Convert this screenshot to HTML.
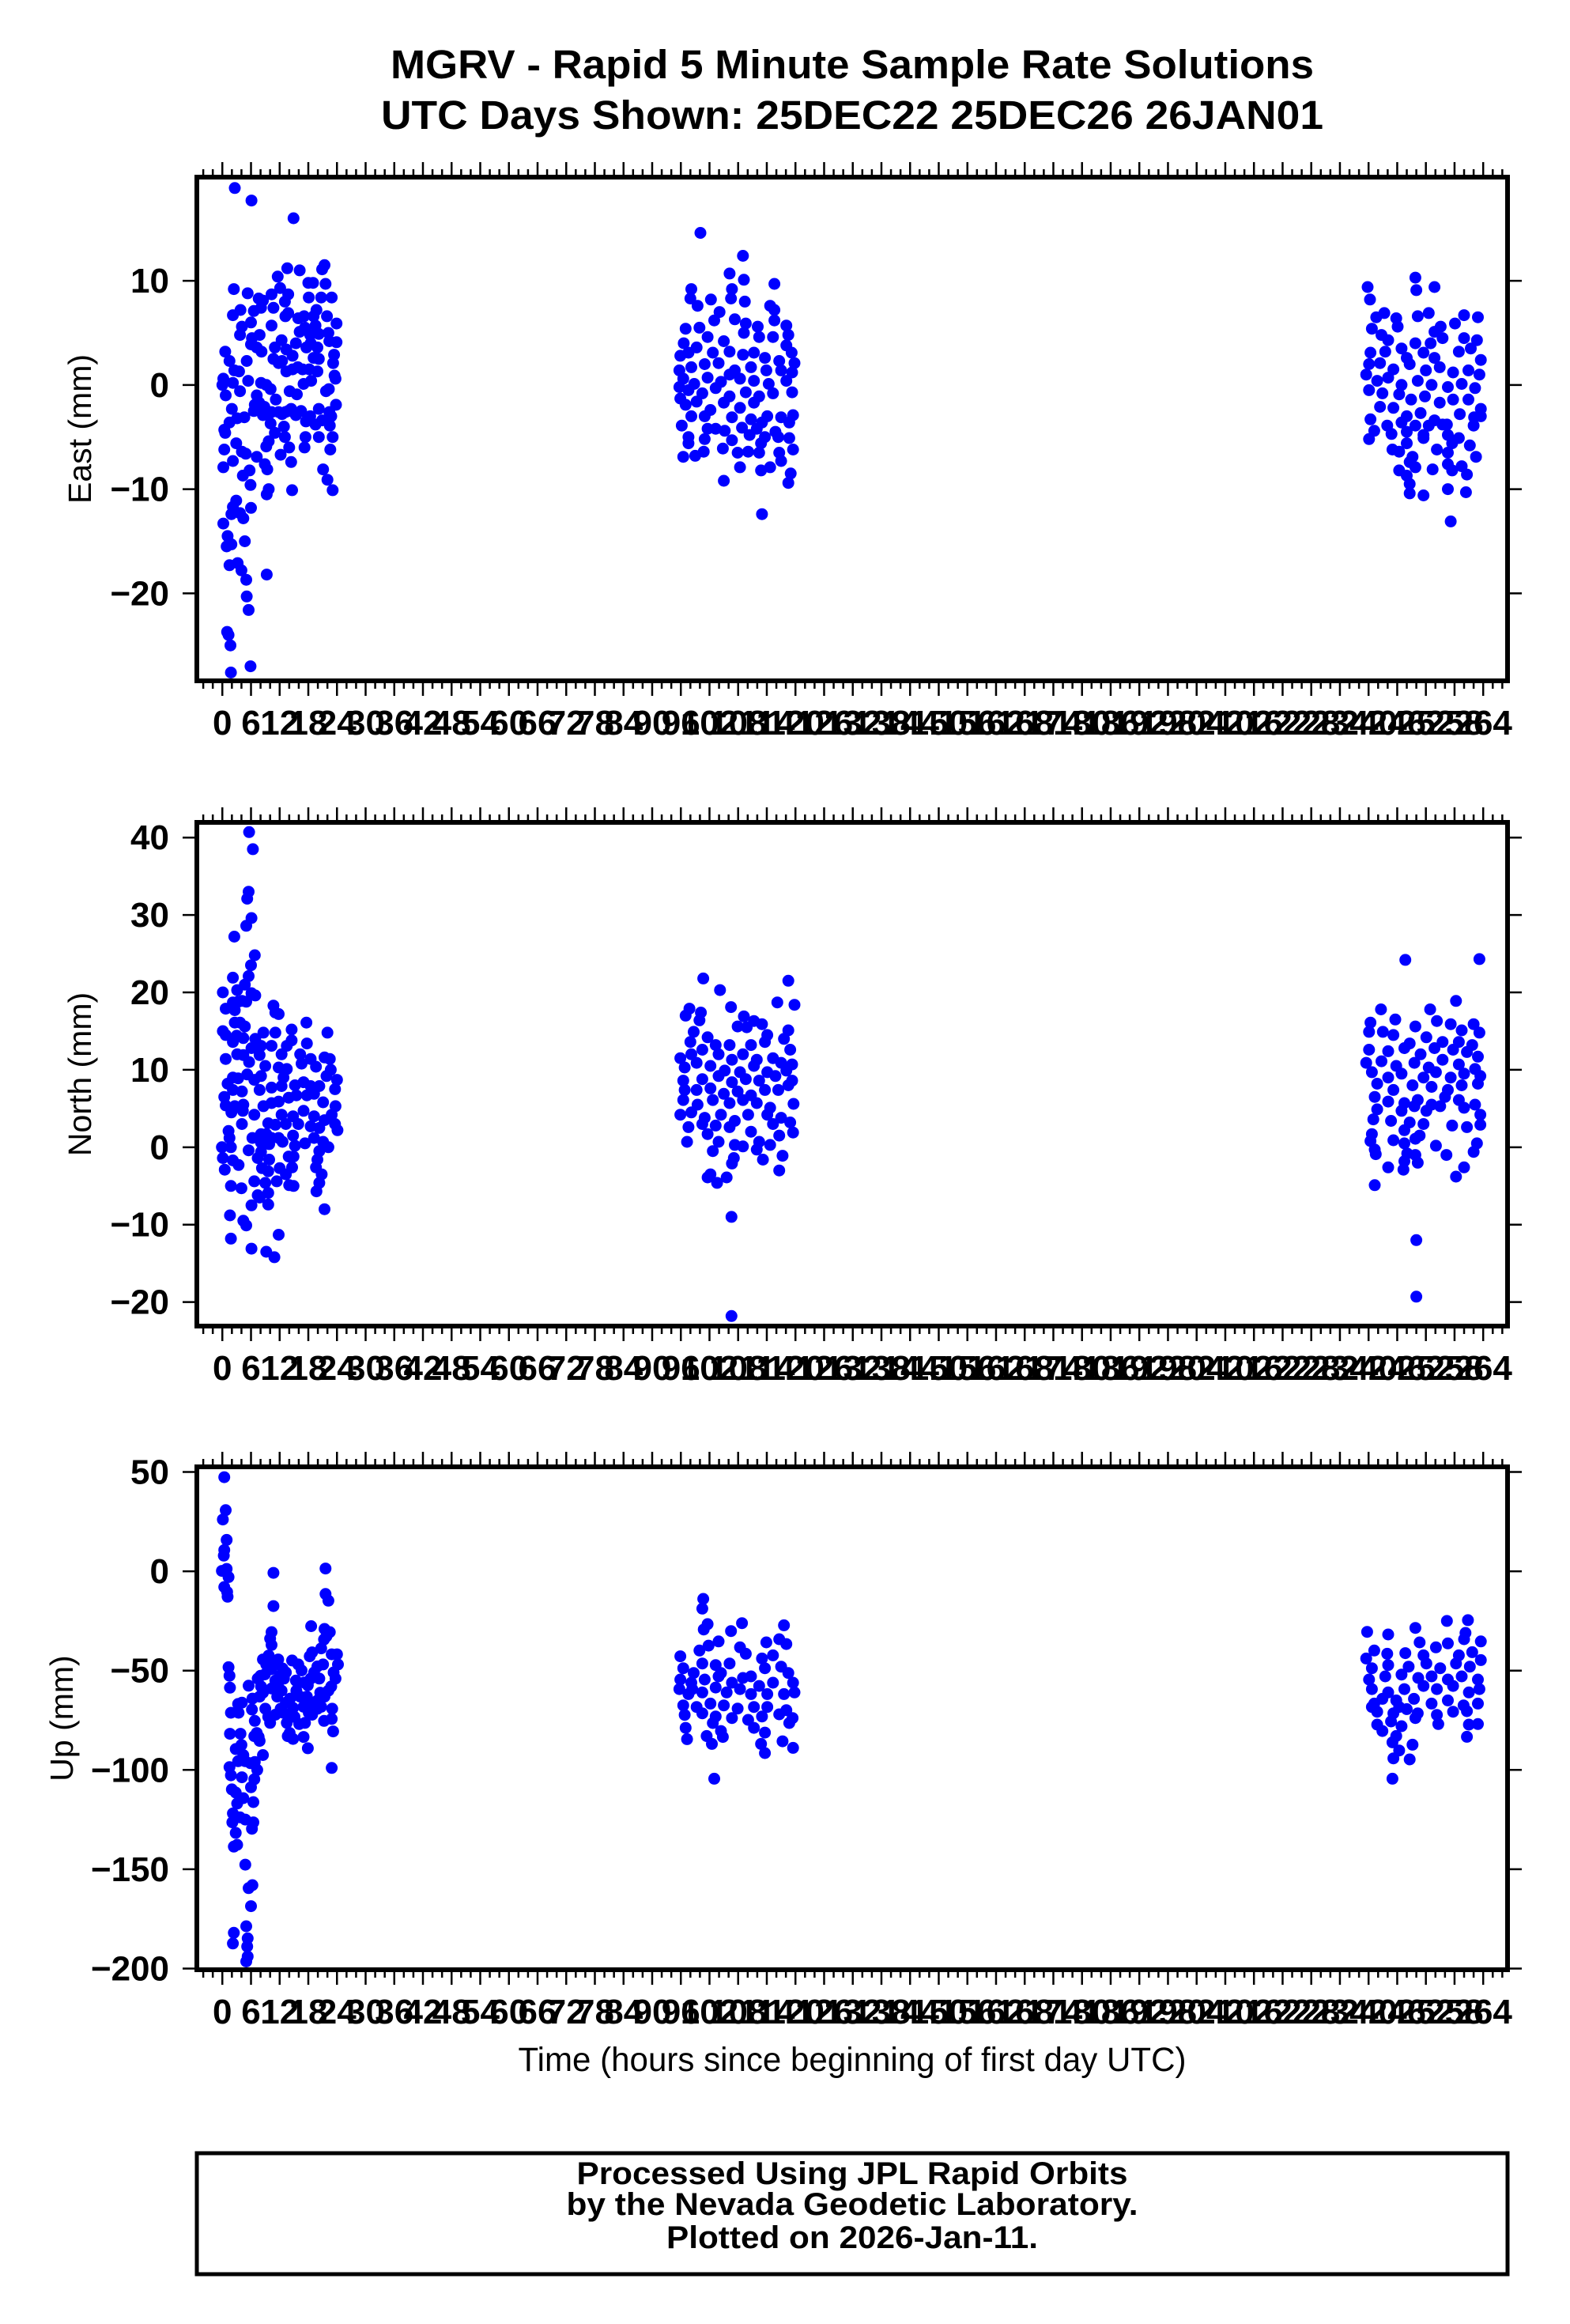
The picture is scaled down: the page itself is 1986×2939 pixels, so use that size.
<!DOCTYPE html>
<html><head><meta charset="utf-8"><title>MGRV Rapid 5 Minute Solutions</title>
<style>html,body{margin:0;padding:0;background:#fff}svg{display:block}text{font-family:"Liberation Sans",Arial,sans-serif}</style>
</head><body>
<svg id="chart" xmlns="http://www.w3.org/2000/svg" width="1986" height="2939" viewBox="0 0 1986 2939">
<rect x="0" y="0" width="1986" height="2939" fill="#fff"/>
<text x="1078" y="99" font-size="51" font-weight="bold" text-anchor="middle" textLength="1168" lengthAdjust="spacingAndGlyphs">MGRV - Rapid 5 Minute Sample Rate Solutions</text>
<text x="1078" y="163" font-size="51" font-weight="bold" text-anchor="middle" textLength="1192" lengthAdjust="spacingAndGlyphs">UTC Days Shown:  25DEC22 25DEC26 26JAN01</text>
<g id="panels"></g>
<text x="1078" y="2619" font-size="43" text-anchor="middle" textLength="845" lengthAdjust="spacingAndGlyphs">Time (hours since beginning of first day UTC)</text>
<rect x="249" y="2723" width="1658" height="153" fill="none" stroke="#000" stroke-width="5"/>
<text x="1078" y="2762" font-size="40" font-weight="bold" text-anchor="middle" textLength="697" lengthAdjust="spacingAndGlyphs">Processed Using JPL Rapid Orbits</text>
<text x="1078" y="2801" font-size="40" font-weight="bold" text-anchor="middle" textLength="723" lengthAdjust="spacingAndGlyphs">by the Nevada Geodetic Laboratory.</text>
<text x="1078" y="2843" font-size="40" font-weight="bold" text-anchor="middle" textLength="470" lengthAdjust="spacingAndGlyphs">Plotted on 2026-Jan-11.</text>
</svg>
<script>
// ---- data (hours since start of first day, displacement in mm) ----
const xTickLabels = [0,6,12,18,24,30,36,42,48,54,60,66,72,78,84,90,96,102,108,114,120,126,132,138,144,150,156,162,168,174,180,186,192,198,204,210,216,222,228,234,240,246,252,258,264];
const eastTicks = [10,0,-10,-20];
const northTicks = [40,30,20,10,0,-10,-20];
const upTicks = [50,0,-50,-100,-150,-200];

const eastH = [2.6,6.1,14.9,0,0.2,0.7,0.6,1.5,2,1.5,0.4,0.6,0.4,0.2,2.2,0.2,1.1,0.9,1.9,1.5,1,1.3,1.7,1.8,5.9,
2.4,2.2,3.8,4.1,3.7,5.3,2.5,3.5,2.2,3.7,3.1,4.6,2.9,4.1,4.9,4.3,5.7,5.9,2.9,2.2,3.7,4.4,6,1.9,4.7,3.2,4,5,5.1,5.5,
5.1,5.4,6.2,6,6.6,7.6,8.5,8.1,6,7.2,8.2,7.8,10.3,10.7,10.3,11.6,12.1,13.1,13.2,13.8,13.6,13.8,16.2,18,19,18.1,20.7,20.9,21.4,21.6,22.9,21.9,23.9,22.2,22.4,23.9,23.4,23.2,23.5,23.7,23.8,22.3,21.7,22.4,22.8,22.5,23.1,22.6,22,23.1,21.1,20.2,20.9,20.2,19.5,18.4,17.5,17.4,17.2,16.5,15.4,14.4,14.1,15.6,17,18.6,19.9,20.2,19.1,18.2,16.8,15.8,14.7,13.4,12.5,11.8,10.7,11,12.4,13.4,14.7,15.4,16.2,17.3,18.4,19.5,20.2,19.1,19.7,17.1,15.9,17.6,18.5,19.9,8.1,9.2,10.1,7.2,6.8,7.7,8.8,9.7,10.3,11.2,11.8,12.5,13.2,13.8,6.6,8.5,10.1,11,12.9,13.1,14,12.2,14.4,14.6,9.2,9.7,8.9,9.4,9.7,9.3,7.2,9.3,
100.1,109,106.2,109.2,115.6,98.2,98,99.5,102.3,106.7,106.5,109.4,114.7,115.6,104.1,103,107.3,109.6,112.1,115.6,118.1,118.5,97,99.9,101.6,96.6,105,109.2,112.4,115.3,118.1,119.2,95.9,97.6,99.3,102.7,106.2,109,111.3,113.6,116.6,119.8,95.7,98.2,101,103.9,107.3,110.7,113.9,117,119.3,96.5,98.8,101.6,104.4,106.2,108.4,111.3,114.4,118.1,95.7,97.6,100.5,103.3,106.2,109.6,112.4,115.3,119.3,95.9,97,99.3,102.2,105,108.4,111.3,114.1,117,119.5,98.2,101,106.7,110.7,113,96.2,101.6,103.3,105.2,108.8,111.9,115.8,118.7,97.6,101,106.7,110.4,113.6,116.4,118.7,97.6,104.8,112.8,119.5,96.5,99,100.8,107.9,110.1,112.4,116.6,117,108.4,112.8,114.7,119,118.5,105,113,
239.8,240.3,249.8,250,253.8,241.6,243.3,245.8,246.1,250.3,252.6,253.8,255.1,258.1,260,262.9,240.7,242.7,244.1,249.8,253,255.5,260,262.7,240.4,243.5,246.9,248,251.5,253.8,258.9,261.4,263.5,240.1,242.4,245.2,248.6,252,254.9,257.7,260.9,263.2,239.5,241.8,244.1,246.9,250.3,253.2,256.6,259.5,262.3,240.1,242.9,246.4,248.9,251.8,254.9,257.7,260.9,263.5,242.4,245.2,248,250.9,253.8,256.4,259.1,262.1,263.5,240.4,243.9,246.9,249.8,252.6,255.5,262,241.2,244.8,248,251.5,256.6,258.9,240.1,248,251.5,257.5,261.2,245,246.4,249.2,254.3,256.6,262.5,248.6,249.8,256.6,259.5,246.4,253.4,257.5,260.6,248,248.6,248.6,251.5,256.6,260.4,257.2];
const eastV = [18.9,17.7,16,0,0.6,-1,3.2,2.3,-2.3,-3.6,-4.3,-4.6,-6.2,-7.9,-7.3,-13.3,-14.5,-15.5,-15.3,-17.3,-23.7,-24,-25,-27.6,-27,
9.2,6.7,7.2,5.6,4.8,8.8,1.4,1.3,0.2,-0.6,-3.2,-3.1,-5.6,-6.4,-6.6,-8.7,-8.2,-9.6,-11.1,-11.7,-12.3,-12.8,-11.8,-12.4,-15,-17.1,-17.8,-18.7,-20.3,-21.6,
2.3,0.4,4.5,6,7.1,8.3,8.1,7.4,3.9,3.6,3.2,4.8,5.7,7.4,8.7,10.4,9.3,8,6.6,6.9,11.2,8.7,11,9.8,9.8,8.4,8.4,11.1,11.5,9.7,8.4,6.6,5.9,5,4.2,4.1,2.9,2.1,0.9,0.6,-1.9,-0.4,-0.6,-2.6,-3,-3.9,-5,-6.2,-9.1,-10.1,-8.1,-5,-3.4,-2.3,-3.8,-3,-3.5,-5,-6,-2.5,-2.9,-2.3,-0.6,-0.9,0.1,0.4,1.3,2.5,2.6,1.5,1.5,1.7,1.5,1.3,2.3,2.1,2.5,3.6,4.3,3.4,2.8,4,5.1,5.5,4.8,5.7,4.9,6.6,7.2,6.6,6.4,3.6,4,3.6,0.2,0,-0.4,-1,-1.9,-1.7,-2.1,-2.8,-2.6,-1.4,-2.6,-2.8,-2.6,-2.5,-2.5,-2.9,-3.7,-4.6,-4,-5,-6,-6.7,-7.4,-10.1,-5.9,-5.4,-7.6,-8.1,-10,-10.5,-6.9,-18.2,
14.6,12.4,10.7,10.1,9.7,9.2,8.3,7.6,8.2,9.2,8.3,8,7.6,7.2,7,6.2,6.3,5.9,5.6,6.2,5.7,4.8,5.4,5.5,4.6,4,4.2,5,4.6,4.6,3.8,3.1,2.8,3.1,3.6,3.1,3.2,2.9,3.1,2.6,2.3,2.1,1.4,1.7,2,2.1,1.4,1.7,1.4,1.4,1.2,0.6,0.1,0.7,0.3,1,0.6,0.4,0.1,0.4,-0.2,-0.5,-0.8,-0.3,-1.1,-0.7,-1.1,-0.8,-0.7,-1.3,-1.9,-1.6,-2.4,-1.7,-2.2,-1.7,-3,-3.1,-2.9,-3,-3,-3.1,-3.3,-3.6,-3.9,-4.2,-4.2,-4.4,-4.1,-4.2,-4.5,-3.6,-5,-5.2,-5.3,-4.8,-5,-5,-5.1,-5.6,-6.1,-5.6,-6.2,-6.9,-6.8,-6.4,-6.5,-6.4,-6.5,-6.5,-7.3,-7.9,-8.2,-7.9,-8.5,-9.4,-9.2,-12.4,
9.4,8.2,10.3,9.1,9.4,6.5,6.9,6.4,5.6,6.6,6.9,5.1,5.6,5.9,6.7,6.5,5.4,4.8,4.3,4,4,4.5,4.5,4.3,3.1,3.2,3.5,2.6,3.1,2.6,3.2,3.5,2.4,2,2.1,1.5,2,1.4,1.7,1.2,1.4,1,1,0.4,0.7,0,0.4,0,-0.2,0.1,-0.3,-0.5,-0.8,-0.9,-1.4,-1.1,-1.7,-1.4,-1.4,-2.3,-2.1,-2.2,-3,-2.7,-3.4,-3.8,-2.8,-3.1,-3,-3.3,-3.9,-3.6,-3.9,-3.9,-3.8,-3.9,-4.4,-4.7,-4.5,-4.8,-4.8,-5.1,-5.2,-5.6,-5.1,-5.6,-5.8,-6.2,-6.4,-6.9,-6.2,-6.5,-6.9,-7.4,-7.9,-7.6,-7.8,-8.2,-8.1,-8.2,-8.6,-8.7,-9.5,-10.4,-10.6,-10,-10.3,-13.1];

const northH = [5.6,6.4,5.5,5.2,6.1,5,2.5,6.8,6,5.5,2.2,0.1,4.7,3.1,6.1,6.9,5,0.7,2.6,2.2,3.3,4.1,10.7,11.1,11.8,0.1,0.7,2.6,3.7,4.7,3,4.4,2.2,6.1,6.9,8.6,11.1,14.5,17.6,22,0.7,3.1,4.4,5.6,8.1,10.3,12.4,13.5,14.5,16.3,17.7,7.8,9,11.8,13.5,16.6,18.5,19.6,21.4,22.5,22.7,1.1,2.2,3.3,5.2,6.7,8.1,10.3,12.4,12.8,15.2,17,18.5,20.3,21.8,24,23.6,0.4,2.2,4.1,7.8,0.7,2.6,4.4,6.7,8.6,10.3,11.8,13.9,15.5,17.7,19.2,21.1,23.7,1.9,4.3,12.4,14.8,17,19.2,21.4,22.9,4.1,9.6,11.1,13.3,15.9,18.5,20.3,23.6,24.1,1.3,1.5,8.1,9.2,10.3,11.8,12.6,14.8,17.3,19.2,21.1,6.3,8.1,9.8,-0.1,1.8,15.2,22.2,5.5,8.1,0.1,2.2,7.4,9.8,13.9,14.9,20.3,19.9,0.5,3.4,8.3,9.6,12,13.3,14.6,19.6,20.8,6.7,11.4,14,14.9,1.8,4,9,20.3,19.7,7.4,9.6,7.8,9.6,6.1,21.4,1.6,4.4,5,1.8,11.8,6.1,9.2,10.9,
100.7,104.2,118.5,106.5,116.2,119.8,97.8,97,100.2,99.9,109.2,111.3,113,107.9,118.5,98.7,101.6,109.8,114.1,117.6,98,103.3,106.2,110.7,113.6,118.9,95.9,98.2,100.5,103.9,106.7,109,111.9,115.3,117,119.3,96.8,99.3,102.2,105.2,108.4,111.3,114.1,118.1,96.5,100.5,103.9,106.7,109.6,112.4,115.8,119.3,96.8,99.3,102.2,105,107.9,110.7,113.6,116.4,118.5,96.5,99.5,102.7,106.2,109,111.9,114.7,119.6,95.9,98.2,101,104.4,107.3,110.1,114.1,117,118.9,97.6,100.5,103.3,106.2,110.7,115.3,119.5,97.3,101.6,103.9,107.3,112.4,116.6,102.7,109,111.9,114.7,107.1,113.2,117.3,106.7,116.6,101.6,102.2,103.6,105.6,106.6,106.6,
247.7,263.2,258.3,242.6,252.9,240.4,245.6,254.3,257.2,262,249.8,240.1,243,245.2,259.5,263.2,248.6,252.1,255.5,258.9,261.7,240.1,244.1,247.5,250.9,253.8,257.7,260.6,262.9,239.5,242.7,245.8,249.6,252.6,255.5,258.9,262.3,240.7,244.1,246.9,251.5,254.1,257.2,260,263.4,241.8,245.2,249.2,253.2,256.6,259.5,262.9,241.3,244.1,247.5,250.3,253.2,256,258.9,262.3,241.8,246.9,249.6,252.1,255,260,263.4,241,244.7,248.6,251.5,257.5,260.6,263.4,240.7,247.5,250.7,241.3,245.2,247.5,249.8,240.4,254.1,262.7,241.5,248.1,249.8,256.3,262,247.5,250.3,244.1,247.3,260,258.3,241.3,250,250];
const northV = [40.7,38.5,33,32.1,29.6,28.6,27.2,24.8,23.5,22.1,21.9,20,21,20.3,19.9,19.6,18.8,17.9,17.7,18.7,18.8,18.9,18.3,17.4,17.2,15,14.5,16.1,16.1,15.6,14.4,14.1,13.6,12.8,14,14.8,14.8,15.2,16.1,14.8,11.4,12,11.9,11,13.1,13.1,12,13.1,13.8,12,13.4,11.9,10.5,10.3,10.1,10.8,11.4,10.4,11.6,11.4,10,8.2,9,8.9,9.4,8.7,9.2,7.7,7.9,9,8,8.4,7.9,7.9,9.2,8.7,7.5,6.5,7.4,7.2,7.4,5.4,5.3,5.5,4.2,5.3,5.7,5.9,6.4,6.7,6.7,6.9,5.8,5.3,4.5,4.7,4.2,4,4.7,4,3.5,4.2,3,3.1,2.9,3,3,2.7,2.5,3,2.2,2.1,1.2,1.7,1.7,1.2,1.2,0.7,1.5,0.5,1.2,0.7,1.2,0.6,0.4,0,0,0.2,0,-0.4,-0.6,-1.4,-1.7,-1.4,-1.6,-1.2,-1.2,-0.5,-1.6,-2.9,-2.3,-2.7,-3.1,-2.7,-3.5,-2.6,-2.6,-3.5,-4.4,-4.4,-4.9,-5,-5,-5.3,-4.6,-4.6,-5.7,-6.2,-5.9,-6.5,-7.4,-7.5,-8,-8.8,-9.5,-10.1,-11.8,-11.3,-13.1,-13.5,-14.2,
21.8,20.3,21.5,18.1,18.7,18.4,17.9,17,17.4,16.4,16.9,16.3,15.9,15.6,15.1,14.9,14.2,15.5,14.5,14,13.6,13.2,13.2,13.2,13.6,12.6,11.5,12,12.6,12,11.3,12,11.3,11.5,10.9,10.7,10.3,10.9,10.5,9.9,9.7,10.5,9.7,9.9,8.6,8.8,9.2,8.4,8.8,8.6,9.2,8.6,7.4,7.4,7.6,6.9,7.2,6.7,7.4,7.4,8,6.1,5.5,6.1,5.7,6.1,5.7,5.1,5.6,4.2,4.5,3.8,4.2,3.4,4.2,4.2,3.8,3.2,2.6,3,2.8,2.6,2,3,1.9,0.7,1.7,0.7,0.3,0.7,1.5,-0.5,0.1,-0.3,0.3,-1.4,-1.6,-1.1,-2.1,-3,-3.9,-3.5,-4.6,-3.9,-9,-21.8,
24.2,24.3,18.9,17.8,17.8,16.1,16.5,16.3,15.9,15.9,15.6,14.9,14.9,14.5,15.1,14.8,13.4,14.2,13.6,13.6,13.2,12.6,12.4,12.8,12,12.8,12.6,12.3,11.7,10.9,11.1,10.5,10.9,10.3,11.3,10.7,10.1,9.7,9,9.5,9,9.7,9,9.5,9.2,8.2,7.4,8,7.8,7.4,8,8.2,6.5,5.9,5.7,6.1,5.5,6.5,6.1,5.5,4.9,4.7,5.3,4.7,5.3,5.1,4.2,3.6,3.4,3.2,3,2.8,2.6,2.9,1.7,2.2,1.5,-0.3,0.9,0.5,1.1,0.8,0.2,0.5,-0.9,-0.8,-1,-1,-0.6,-1.8,-2,-2.6,-2.9,-2.6,-3.8,-4.9,-12,-19.3];

const upH = [0.4,0.7,0.1,0.9,0.4,0.3,-0.1,0.9,1.3,0.4,1,1.1,1.3,1.5,1.6,1.8,1.6,1.5,1.8,2,2.8,3.1,2.2,2.1,2.8,2.4,3.1,2.4,2.2,4.8,5.5,6.3,6,5,5.3,5.2,5.3,5,3.3,4.1,3.4,3.8,2.8,4,4.4,3.3,4.8,4.1,4.4,6,6.5,4.8,6.5,6.2,3.7,5.5,6.3,6.2,6.8,6.7,7.2,7.6,7.8,8.5,6.8,7.3,6.7,5.9,7.4,8,8.1,8.5,7.8,9,9.6,10,8.5,9.7,10.3,10,10.3,10.7,10.7,10.2,10.9,11.7,11.1,12,12.6,12.9,13.3,10.3,11.5,12.4,13.3,11.1,12.2,14.2,15.4,14.6,15.9,16.6,15.5,16.3,14.8,17,17.1,17.9,18.5,18.3,18.8,18.6,19.2,19.9,20.3,21.1,20.7,21.3,21.4,21.8,22.5,21.6,22.2,21.6,22.9,24,24.2,23.3,23.7,22.8,22.2,21.4,20.5,19.9,18.8,17.7,18.1,17.3,17,17.9,18.8,19.9,20.7,21.3,23,22.9,23.2,22.9,13.9,13.5,14.1,13.7,14.8,16.1,15.1,8.9,9.2,11.8,12.7,
100.7,100.5,101.6,100.8,108.8,106.5,103.9,117.6,116.6,113.9,118.1,95.9,99.9,101.8,108.4,109.6,113,115.3,96.5,98.7,100.5,103.3,106.2,110.7,113.6,117,118.5,95.9,98.2,101,103.9,106.7,109,112.4,115.3,119.5,95.7,97.6,100.5,103.3,105.6,108.4,110.7,114.1,117.6,119.8,96.5,99.3,102.2,105,107.9,111.3,114.1,118.1,96.8,100.5,103.3,106.7,110.1,113,116.6,119.4,97,101.4,102.7,104.4,111.3,113.6,118.7,97.3,102.5,104.8,112.8,117.3,113.6,119.5,103,98.4,104.4,
239.7,244.1,249.8,256.4,260.8,260.3,260,263.5,250.7,254.1,241.2,247.7,251.5,256.6,239.5,243.9,258.9,261.7,263.5,240.7,244.1,248.4,252.1,255,258.3,261.2,240.1,243.5,246.9,250.4,253.2,256.6,259.5,262.9,240.7,244.1,247.5,251.5,254.3,257.7,261,263.2,241.2,242.9,245.8,249.5,253.2,256.6,259.9,262.9,241.8,245.2,248,250.3,254.3,257.7,260.6,241.8,244.7,246.9,249.8,254.6,261,262.9,242.9,245.8,245,246.4,249.2,260.6,245.2,248.6,245,240.7,246.4];
const upV = [47.4,30.8,26.1,15.8,10.7,7.9,0.2,1.2,-2.9,-7.9,-10.4,-12.8,-48.3,-52.6,-58.6,-71.2,-81.8,-98.6,-102.7,-109.8,-111.4,-116.9,-121.9,-126.4,-131.7,-138.6,-137.7,-182,-187.4,-147.7,-159.5,-158,-168.6,-178.7,-184.8,-188.9,-193.9,-196.4,-66.8,-66.1,-71.2,-81.8,-89.5,-87.4,-92.5,-95.6,-95.6,-103.7,-114.2,-108.7,-116.2,-125,-126.4,-129.6,-123.9,-57.6,-64.1,-69.6,-75.3,-83,-81.4,-83.4,-85.4,-92.5,-96,-100,-104.7,-96.6,-54,-52.6,-58,-61.1,-63.1,-69.2,-73.3,-76.3,-44.4,-42.4,-30.6,-33.9,-37.1,-17.5,-0.8,-49.3,-46.9,-44.4,-55,-52.6,-48.9,-54,-50.9,-59,-63.1,-60.1,-66.1,-72.2,-69.2,-64.1,-55,-44.9,-46.9,-49.9,-60.1,-63.1,-68.8,-68.2,-56,-57.4,-54,-42.8,-40.8,-27.6,-50.9,-47.9,-54,-46.9,-38.8,-34.3,-29,-32.7,-30.6,-11.4,-14.8,1.4,-41.8,-41.8,-46.9,-50.9,-54,-58,-60.1,-63.1,-61.1,-65.1,-66.1,-63.1,-71.2,-76.3,-83.4,-89.1,-72.2,-69.2,-68.2,-75.3,-69.2,-74.3,-80.6,-99,-73.3,-76.3,-81.4,-83,-84.4,-76.9,-73.3,-51.9,-46.9,-58.6,-71.2,
-13.9,-18.8,-26.6,-29.3,-26.1,-30.1,-35.3,-27.2,-34.2,-35.8,-36.6,-42.8,-39.9,-37.4,-38.3,-41.5,-43.9,-42.3,-48.8,-51.2,-46.4,-47.2,-46.4,-52.9,-48.8,-48,-51.2,-54.5,-56.1,-54.5,-52.9,-56.1,-53.7,-57.7,-56.1,-56.1,-59.3,-61.8,-61,-58.5,-61,-59.3,-61.8,-61.8,-61.8,-61,-67.5,-68.3,-66.6,-67.5,-69.1,-68.3,-68.3,-69.9,-72.3,-71.5,-73.1,-73.9,-74.8,-73.1,-72,-73.9,-78.8,-82.9,-76.4,-80.4,-78.8,-81.2,-76.4,-84.5,-86.9,-83.4,-86.9,-85.6,-91.5,-88.9,-104.4,-59.3,-51.2,
-30.5,-31.8,-28.5,-25,-24.6,-31,-34.2,-35.3,-35.8,-38.3,-39.9,-41.2,-42.3,-36.3,-43.9,-41.5,-42.3,-40.7,-44.7,-48.8,-47.2,-48,-46.4,-48.8,-46.4,-48,-54.5,-52.9,-52,-53.7,-52.9,-54.5,-52.9,-54.5,-59.3,-61,-59.3,-57.7,-59.3,-57.7,-61,-59.3,-66.6,-64.2,-65,-64.2,-66.6,-65,-67.5,-66.6,-70.7,-71.5,-69.4,-71.5,-72.3,-70.7,-70.4,-77.2,-75.6,-78,-73.9,-76.9,-77.2,-76.9,-80.4,-82.9,-86.1,-90.2,-87.3,-83.3,-94.2,-94.7,-104.4,-68.3,-68.3];

// ---- layout ----
const X0 = 249, X1 = 1907, H_MIN = -5.34, H_MAX = 269.1;
function xScale(h){ return X0 + (h - H_MIN) * (X1 - X0) / (H_MAX - H_MIN); }
function makeY(top, bottom, vTop, vBottom){ return v => top + (vTop - v) * (bottom - top) / (vTop - vBottom); }

const NS = 'http://www.w3.org/2000/svg';
const root = document.getElementById('panels');
function el(tag, attrs, parent){ const e = document.createElementNS(NS, tag); for (const k in attrs) e.setAttribute(k, attrs[k]); (parent||root).appendChild(e); return e; }

const panels = [
  {key:'east', title:'East (mm)', top:224, bottom:861, vTop:19.95, vBottom:-28.4, ticks:eastTicks, hs:eastH, vs:eastV, titleX:115},
  {key:'north', title:'North (mm)', top:1040, bottom:1677, vTop:41.96, vBottom:-23.1, ticks:northTicks, hs:northH, vs:northV, titleX:115},
  {key:'up', title:'Up (mm)', top:1855, bottom:2491, vTop:52.6, vBottom:-200.6, ticks:upTicks, hs:upH, vs:upV, titleX:92}
];

panels.forEach(p => {
  const g = el('g', {});
  
  
  const y = makeY(p.top, p.bottom, p.vTop, p.vBottom);
  const pg = el('g', {fill:'#0000ff'}, g);
  
  
  for (let i = 0; i < p.hs.length; i++) {
    const c = el('circle', {cx: xScale(p.hs[i]).toFixed(1), cy: y(p.vs[i]).toFixed(1), r: 7.5}, pg);
    
    
  }
  const tg = el('g', {stroke:'#000', 'stroke-width':2.5}, g);
  
  
  for (let h = -4; h <= 268; h += 2) {
    const major = (h % 6 === 0) && h >= 0;
    const L = major ? 19 : 10, xx = xScale(h);
    el('line', {x1:xx, x2:xx, y1:p.top, y2:p.top - L}, tg);
    el('line', {x1:xx, x2:xx, y1:p.bottom, y2:p.bottom + L}, tg);
  }
  const lg = el('g', {'font-size':44, 'font-weight':'bold', 'text-anchor':'middle'}, g);
  
  
  xTickLabels.forEach(t => {
    const tx = el('text', {x: xScale(t), y: p.bottom + 68}, lg);
    
    
    tx.textContent = String(t);
  });
  const yg = el('g', {}, g);
  
  
  p.ticks.forEach(t => {
    const yy = y(t);
    el('line', {x1:X0, x2:X0 - 18, y1:yy, y2:yy, stroke:'#000', 'stroke-width':2.5}, yg);
    el('line', {x1:X1, x2:X1 + 18, y1:yy, y2:yy, stroke:'#000', 'stroke-width':2.5}, yg);
    const tx = el('text', {x:214, y:yy + 15, 'font-size':44, 'font-weight':'bold', 'text-anchor':'end'}, yg);
    
    
    tx.textContent = t < 0 ? '\u2212' + Math.abs(t) : String(t);
  });
  const cy = (p.top + p.bottom) / 2;
  const yt = el('text', {x:p.titleX, y:cy, 'font-size':41, 'text-anchor':'middle', transform:'rotate(-90 ' + p.titleX + ' ' + cy + ')'}, g);
  
  
  yt.textContent = p.title;
  const fr = el('rect', {x:X0, y:p.top, width:X1 - X0, height:p.bottom - p.top, fill:'none', stroke:'#000', 'stroke-width':6}, g);
  
  
});
</script>
</body></html>
